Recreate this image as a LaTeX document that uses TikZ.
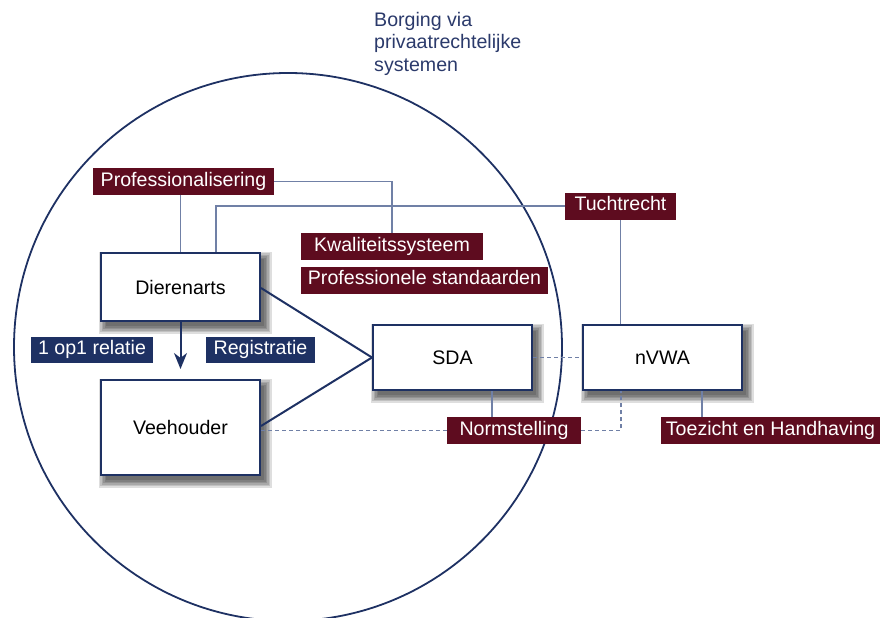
\documentclass[tikz,border=0pt]{standalone}
\usepackage{fontspec}
\setmainfont{Liberation Sans}
\usetikzlibrary{arrows.meta,backgrounds}
\definecolor{dred}{HTML}{5E0C1F}
\definecolor{navy}{HTML}{1E3163}
\definecolor{thinline}{HTML}{7080A6}
\definecolor{titleblue}{HTML}{2B3A6B}
\begin{document}
\begin{tikzpicture}[x=1pt,y=-1pt,
  font=\fontsize{19.6}{22}\selectfont,
  box/.style={draw=navy, line width=2pt, fill=white, minimum width=159pt, inner sep=0pt},
  redlab/.style={fill=dred, text=white, inner sep=0pt, minimum height=27pt, text height=13.5pt, text depth=4pt},
  bluelab/.style={fill=navy, text=white, inner sep=0pt, minimum height=26pt, text height=13.5pt, text depth=4pt},
  thin/.style={draw=thinline, line width=1.1pt},
  dashline/.style={draw=thinline, line width=1.1pt, dash pattern=on 4pt off 3pt},
  heavy/.style={draw=navy, line width=2pt},
  shadowlayer/.style={fill=black, opacity=0.13},
  titletext/.style={text=titleblue, anchor=base west, inner sep=0pt}]
\useasboundingbox (0,0) rectangle (881,618);

% title
\node[titletext] (t1) at (374,27) {Borging via};
\node[titletext] (t2) at (374,49) {privaatrechtelijke};
\node[titletext] (t3) at (374,71) {systemen};

% boxes
\node[box, minimum height=68pt] (dier) at (180.5,287) {Dierenarts};
\node[box, minimum height=95pt] (vee) at (180.5,427.5) {Veehouder};
\node[box, minimum height=65pt] (sda) at (452.5,357.5) {SDA};
\node[box, minimum height=65pt] (nvwa) at (662.5,357.5) {nVWA};

% labels
\node[redlab, minimum width=181pt] (prof) at (183.5,181.5) {Professionalisering};
\node[redlab, minimum width=182pt] (kwal) at (392,246.5) {Kwaliteitssysteem\hspace{6pt}};
\node[redlab, minimum width=247pt] (pstd) at (424.5,280) {Professionele standaarden};
\node[redlab, minimum width=111pt] (tucht) at (620.5,206) {Tuchtrecht};
\node[redlab, minimum width=134pt] (norm) at (514,430.5) {Normstelling};
\node[redlab, minimum width=219pt] (toez) at (770.5,430.5) {Toezicht en Handhaving};
\node[bluelab, minimum width=122pt] (op1) at (92,350) {1 op1 relatie};
\node[bluelab, minimum width=109pt] (reg) at (260.5,350) {Registratie};

\coordinate (arrtip) at (180.5,369);

\begin{pgfonlayer}{background}
  \node[draw=navy, line width=1.8pt, circle, minimum size=548pt, inner sep=0pt] (circ) at (288,347) {};
  % soft shadows of the boxes
  \foreach \b in {dier,vee,sda,nvwa}{
    \foreach \e in {0,1.5,3,4.5,6,7.5}{
      \fill[shadowlayer] ([shift={(6-\e,7-\e)}]\b.north west) rectangle ([shift={(3+\e,4+\e)}]\b.south east);
    }
  }
  % thin connectors
  \draw[thin] (dier.north) -- (dier.north |- prof.south);
  \draw[thin] (prof.east) -| (kwal.north);
  \draw[thin] ([xshift=35.5pt]dier.north) |- (tucht.west);
  \draw[thin] (tucht.south) -- (tucht.south |- nvwa.north);
  \draw[thin] ([xshift=39.5pt]sda.south) -- ([xshift=39.5pt]sda.south |- norm.north);
  \draw[thin] ([xshift=39.5pt]nvwa.south) -- ([xshift=39.5pt]nvwa.south |- toez.north);
  % dashed connectors
  \draw[dashline] (sda.east) -- (nvwa.west);
  \draw[dashline] (vee.east |- norm.west) -- (norm.west);
  \draw[dashline] (norm.east) -| ([xshift=-41.5pt]nvwa.south);
  % heavy connectors
  \draw[heavy] ([yshift=-1pt]dier.east) -- (sda.west);
  \draw[heavy] ([yshift=1.5pt]vee.east) -- (sda.west);
  \draw[heavy, -{Stealth[length=16pt, width=13pt, inset=5pt]}] (dier.south) -- (arrtip);
\end{pgfonlayer}
\end{tikzpicture}
\end{document}
